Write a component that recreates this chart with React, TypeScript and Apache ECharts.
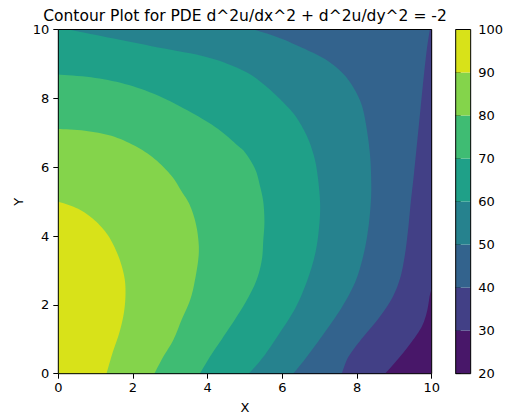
import React, { useEffect, useRef } from "react";
import * as echarts from "echarts";

// Contour levels and viridis band colours (one colour per band between levels)
const levels = [20, 30, 40, 50, 60, 70, 80, 90, 100];
const bandColors = ["#481769", "#424086", "#33638d", "#26828e", "#1fa088", "#3fbc73", "#84d44b", "#d8e219"];

// Contour lines, [x, y] in data units
const contour30 = [[8.75, 0], [9.11, 0.44], [9.46, 0.92], [9.73, 1.36], [9.87, 1.79], [9.95, 2.28], [10, 2.47]];
const contour40 = [[9.95, 10], [9.87, 9.43], [9.78, 8.56], [9.69, 7.59], [9.6, 6.62], [9.51, 5.66], [9.44, 4.99], [9.37, 4.21], [9.28, 3.44], [9.15, 2.76], [8.93, 2.18], [8.57, 1.6], [8.13, 1.02], [7.77, 0.49], [7.59, 0]];
const contour50 = [[5.23, 10], [5.89, 9.77], [6.61, 9.43], [7.14, 9.14], [7.59, 8.76], [7.9, 8.32], [8.13, 7.79], [8.26, 7.11], [8.35, 6.33], [8.38, 5.6], [8.37, 4.99], [8.3, 4.21], [8.17, 3.44], [7.95, 2.66], [7.57, 1.89], [7.08, 1.12], [6.62, 0.44], [6.29, 0]];
const contour60 = [[0.26, 10], [1.33, 9.77], [2.67, 9.48], [4.01, 9.19], [5.0, 8.78], [5.54, 8.37], [5.98, 7.93], [6.34, 7.5], [6.61, 7.01], [6.79, 6.53], [6.92, 5.95], [7.01, 4.99], [6.98, 4.21], [6.87, 3.44], [6.65, 2.66], [6.34, 1.89], [5.89, 1.12], [5.47, 0.46], [5.1, 0]];
const contour70 = [[0, 8.69], [0.88, 8.61], [1.78, 8.42], [2.67, 8.08], [3.56, 7.59], [4.28, 7.11], [4.81, 6.62], [5.0, 6.43], [5.27, 5.95], [5.4, 5.46], [5.49, 4.99], [5.52, 4.41], [5.49, 3.88], [5.45, 3.3], [5.31, 2.72], [5.05, 2.14], [4.78, 1.66], [4.42, 1.07], [4.06, 0.49], [3.79, 0]];
const contour80 = [[0, 7.11], [0.71, 7.06], [1.42, 6.91], [2.05, 6.62], [2.58, 6.24], [3.03, 5.75], [3.3, 5.3], [3.5, 4.95], [3.65, 4.5], [3.74, 4.0], [3.76, 3.45], [3.66, 2.72], [3.53, 2.14], [3.3, 1.56], [3.08, 0.98], [2.81, 0.49], [2.57, 0]];
const contour90 = [[0, 5.0], [0.53, 4.79], [0.97, 4.46], [1.33, 4.02], [1.6, 3.44], [1.76, 2.86], [1.8, 2.37], [1.76, 1.79], [1.64, 1.21], [1.46, 0.63], [1.29, 0]];

const contours = [contour30, contour40, contour50, contour60, contour70, contour80, contour90];

const X_MIN = 0, X_MAX = 10, Y_MIN = 0, Y_MAX = 10;

// position along the rectangle boundary, counter-clockwise from (0,0)
function edgeT(p: number[]): number {
  const eps = 1e-6;
  const [x, y] = p;
  if (y <= Y_MIN + eps) return x - X_MIN;
  if (x >= X_MAX - eps) return 10 + (y - Y_MIN);
  if (y >= Y_MAX - eps) return 20 + (X_MAX - x);
  return 30 + (Y_MAX - y);
}
const cornerAt: Record<number, number[]> = {
  0: [X_MIN, Y_MIN],
  10: [X_MAX, Y_MIN],
  20: [X_MAX, Y_MAX],
  30: [X_MIN, Y_MAX],
};

// corners to add after the contour so that the polygon closes through (0,0) (high side)
function closingCorners(line: number[][]): number[][] {
  const ts = edgeT(line[0]);
  const te = edgeT(line[line.length - 1]);
  const pts: number[][] = [];
  if (ts <= te) {
    [10, 20, 30].filter((c) => c > te).forEach((c) => pts.push(cornerAt[c]));
    pts.push(cornerAt[0]);
    [10, 20, 30].filter((c) => c < ts).forEach((c) => pts.push(cornerAt[c]));
  } else {
    [30, 20, 10, 0].filter((c) => c < te).forEach((c) => pts.push(cornerAt[c]));
    [30, 20, 10].filter((c) => c > ts).forEach((c) => pts.push(cornerAt[c]));
  }
  return pts;
}

// Catmull-Rom smoothing of the drawn pixel path (rendering only)
function smoothPixels(P: number[][], steps = 8): number[][] {
  const out: number[][] = [];
  const n = P.length;
  for (let i = 0; i < n - 1; i++) {
    const p0 = P[Math.max(0, i - 1)], p1 = P[i], p2 = P[i + 1], p3 = P[Math.min(n - 1, i + 2)];
    for (let s = 0; s < steps; s++) {
      const t = s / steps, t2 = t * t, t3 = t2 * t;
      const f = (a: number, b: number, c: number, d: number) =>
        0.5 * (2 * b + (-a + c) * t + (2 * a - 5 * b + 4 * c - d) * t2 + (-a + 3 * b - 3 * c + d) * t3);
      out.push([f(p0[0], p1[0], p2[0], p3[0]), f(p0[1], p1[1], p2[1], p3[1])]);
    }
  }
  out.push(P[n - 1]);
  return out;
}

const fullRect = [[X_MIN, Y_MIN], [X_MAX, Y_MIN], [X_MAX, Y_MAX], [X_MIN, Y_MAX]];

const FONT = "DejaVu Sans, sans-serif";

export default function App() {
  const ref = useRef<HTMLDivElement>(null);
  useEffect(() => {
    if (!ref.current) return;
    const chart = echarts.init(ref.current, undefined, { renderer: "svg" });
    const plot = { left: 58.3, top: 29.5, width: 373.4, height: 344.2 };
    const cbar = { left: 455.7, top: 29.5, width: 16.6, height: 344.2 };
    const tickStyle = { show: true, length: 5, lineStyle: { color: "#000", width: 1 } };
    const labelStyle = { color: "#000", fontSize: 13, fontFamily: FONT };
    chart.setOption({
      animation: false,
      backgroundColor: "#fff",
      grid: [
        { ...plot, containLabel: false },
        { ...cbar, containLabel: false },
      ],
      xAxis: [
        {
          type: "value", gridIndex: 0, min: X_MIN, max: X_MAX, interval: 2,
          axisLine: { show: false }, axisTick: tickStyle,
          axisLabel: { ...labelStyle, margin: 7.5 }, splitLine: { show: false },
        },
        { type: "value", gridIndex: 1, min: 0, max: 1, show: false },
      ],
      yAxis: [
        {
          type: "value", gridIndex: 0, min: Y_MIN, max: Y_MAX, interval: 2,
          axisLine: { show: false }, axisTick: tickStyle,
          axisLabel: { ...labelStyle, margin: 9 }, splitLine: { show: false },
        },
        {
          type: "value", gridIndex: 1, position: "right", min: levels[0], max: levels[levels.length - 1], interval: 10,
          axisLine: { show: false }, axisTick: tickStyle,
          axisLabel: { ...labelStyle, margin: 7.5 }, splitLine: { show: false },
        },
      ],
      series: [
        {
          type: "custom", xAxisIndex: 0, yAxisIndex: 0, silent: true,
          data: bandColors.map((_, i) => [0, 0, i]),
          renderItem: (params: any, api: any) => {
            const i = params.dataIndex;
            let pts: number[][];
            if (i === 0) {
              pts = fullRect.map((p) => api.coord(p));
            } else {
              const line = contours[i - 1];
              pts = smoothPixels(line.map((p) => api.coord(p))).concat(
                closingCorners(line).map((p) => api.coord(p))
              );
            }
            return {
              type: "polygon",
              shape: { points: pts },
              style: { fill: bandColors[i] },
            };
          },
        },
        {
          type: "custom", xAxisIndex: 0, yAxisIndex: 0, silent: true, z: 5,
          data: [[0, 0]],
          renderItem: (params: any, api: any) => {
            const a = api.coord([X_MIN, Y_MAX]);
            const b = api.coord([X_MAX, Y_MIN]);
            return {
              type: "rect",
              shape: { x: a[0], y: a[1], width: b[0] - a[0], height: b[1] - a[1] },
              style: { fill: "none", stroke: "#000", lineWidth: 1 },
            };
          },
        },
        {
          type: "custom", xAxisIndex: 1, yAxisIndex: 1, silent: true,
          data: bandColors.map((_, i) => [0, levels[i]]),
          renderItem: (params: any, api: any) => {
            const i = params.dataIndex;
            const a = api.coord([0, levels[i + 1]]);
            const b = api.coord([1, levels[i]]);
            return {
              type: "rect",
              shape: { x: a[0], y: a[1], width: b[0] - a[0], height: b[1] - a[1] },
              style: { fill: bandColors[i] },
            };
          },
        },
        {
          type: "custom", xAxisIndex: 1, yAxisIndex: 1, silent: true, z: 5,
          data: [[0, levels[0]]],
          renderItem: (params: any, api: any) => {
            const a = api.coord([0, levels[levels.length - 1]]);
            const b = api.coord([1, levels[0]]);
            return {
              type: "rect",
              shape: { x: a[0], y: a[1], width: b[0] - a[0], height: b[1] - a[1] },
              style: { fill: "none", stroke: "#000", lineWidth: 1 },
            };
          },
        },
      ],
      graphic: [
        {
          type: "text", x: 245, y: 15.5, silent: true,
          style: {
            text: "Contour Plot for PDE d^2u/dx^2 + d^2u/dy^2 = -2",
            fill: "#000", font: `15.5px ${FONT}`, textAlign: "center", textVerticalAlign: "middle",
          },
        },
        {
          type: "text", x: 245, y: 407, silent: true,
          style: { text: "X", fill: "#000", font: `13px ${FONT}`, textAlign: "center", textVerticalAlign: "middle" },
        },
        {
          type: "text", x: 18.5, y: 201.7, rotation: Math.PI / 2, silent: true,
          style: { text: "Y", fill: "#000", font: `13px ${FONT}`, textAlign: "center", textVerticalAlign: "middle" },
        },
      ],
    });
    return () => chart.dispose();
  }, []);
  return <div ref={ref} style={{ width: 506, height: 414, position: "absolute", left: 0, top: 0 }} />;
}
